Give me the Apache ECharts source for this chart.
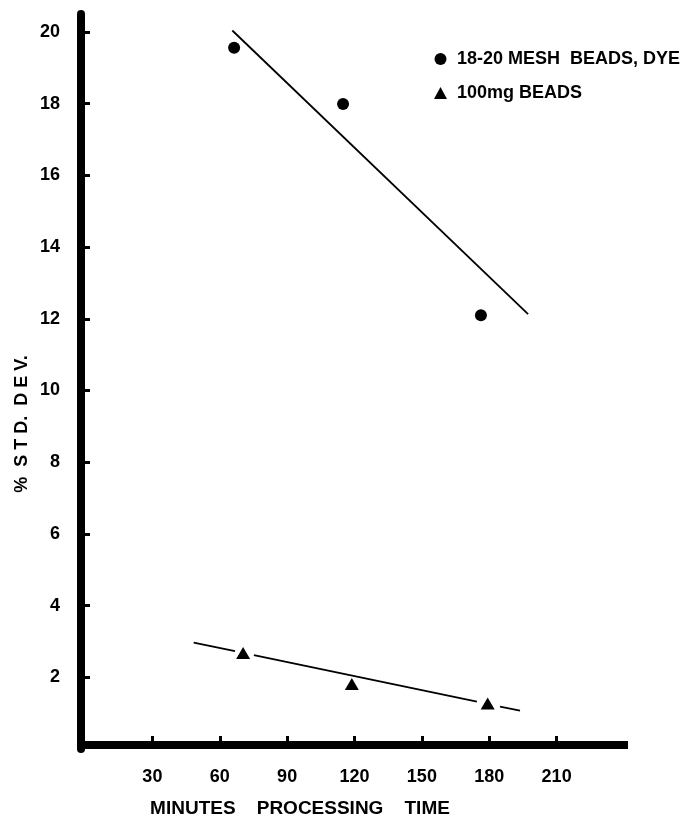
<!DOCTYPE html>
<html>
<head>
<meta charset="utf-8">
<script src="https://cdn.jsdelivr.net/npm/echarts@6/dist/echarts.min.js"></script>
<style>
html,body{margin:0;padding:0;background:#fff;}
#chart{width:682px;height:820px;}
</style>
</head>
<body>
<div id="chart"></div>
<script>
// ---- data ----
var seriesNames = ['18-20 MESH  BEADS, DYE', '100mg BEADS'];
var meshBeadsDye = [[66.4, 19.56], [114.9, 17.99], [176.3, 12.1]];
var mg100Beads = [[70.4, 2.68], [118.8, 1.81], [179.3, 1.27]];
var meshFitLine = [[65.6, 20.04], [197.3, 12.13]];
var beadsFitSegments = [
  [[48.4, 2.97], [66.8, 2.73]],
  [[75.2, 2.62], [174.5, 1.32]],
  [[184.8, 1.18], [193.7, 1.07]]
];
var xTickValues = [30, 60, 90, 120, 150, 180, 210];
var yTickValues = [2, 4, 6, 8, 10, 12, 14, 16, 18, 20];
var xAxisTitle = 'MINUTES    PROCESSING    TIME';
var yAxisTitle = '%  S T D.  D E V.';

var FONT = '"Liberation Sans", Arial, Helvetica, sans-serif';
var chart = echarts.init(document.getElementById('chart'), null, {renderer: 'canvas'});

var series = [
  {
    name: seriesNames[0], type: 'scatter', data: meshBeadsDye,
    symbol: 'circle', symbolSize: 12,
    itemStyle: {color: '#000', opacity: 1}, z: 5
  },
  {
    name: seriesNames[1], type: 'scatter', data: mg100Beads,
    symbol: 'triangle', symbolSize: [14, 12],
    itemStyle: {color: '#000', opacity: 1}, z: 5
  },
  {
    type: 'line', data: meshFitLine, symbol: 'none',
    lineStyle: {color: '#000', width: 1.8}, silent: true
  }
];
beadsFitSegments.forEach(function (seg) {
  series.push({
    type: 'line', data: seg, symbol: 'none',
    lineStyle: {color: '#000', width: 1.8}, silent: true
  });
});

chart.setOption({
  backgroundColor: '#fff',
  animation: false,
  grid: {left: 85, right: 58, top: 14, bottom: 71},
  xAxis: {
    type: 'value', min: 0, max: 240, interval: 30,
    offset: -4,
    splitLine: {show: false},
    axisLine: {show: true, onZero: false, lineStyle: {color: '#000', width: 8, cap: 'square'}},
    axisTick: {show: true, inside: true, length: 9, customValues: xTickValues,
      lineStyle: {color: '#000', width: 3}},
    axisLabel: {show: true, customValues: xTickValues, margin: 23,
      color: '#000', fontFamily: FONT, fontWeight: 'bold', fontSize: 18}
  },
  yAxis: {
    type: 'value', min: 0, max: 20.5,
    offset: 4,
    splitLine: {show: false},
    axisLine: {show: true, onZero: false, lineStyle: {color: '#000', width: 8}},
    axisTick: {show: true, inside: true, length: 9, customValues: yTickValues,
      lineStyle: {color: '#000', width: 3}},
    axisLabel: {show: true, customValues: yTickValues, margin: 21, padding: [0, 0, 10, 0],
      color: '#000', fontFamily: FONT, fontWeight: 'bold', fontSize: 18}
  },
  legend: {
    orient: 'vertical', left: 429, top: 45,
    itemWidth: 13, itemHeight: 12, itemGap: 16,
    data: [
      {name: seriesNames[0], icon: 'circle', itemStyle: {color: '#000', opacity: 1}},
      {name: seriesNames[1], icon: 'triangle', itemStyle: {color: '#000', opacity: 1}}
    ],
    textStyle: {color: '#000', fontFamily: FONT, fontWeight: 'bold', fontSize: 18, padding: [0, 0, 0, 5]},
    selectedMode: false
  },
  graphic: [
    {
      type: 'text', x: 300, y: 809,
      style: {text: xAxisTitle, fill: '#000', font: 'bold 19px ' + FONT,
        textAlign: 'center', textVerticalAlign: 'middle'}
    },
    {
      type: 'text', x: 22, y: 424, rotation: Math.PI / 2,
      style: {text: yAxisTitle, fill: '#000', font: 'bold 18px ' + FONT,
        textAlign: 'center', textVerticalAlign: 'middle'}
    }
  ],
  series: series
});
</script>
</body>
</html>
